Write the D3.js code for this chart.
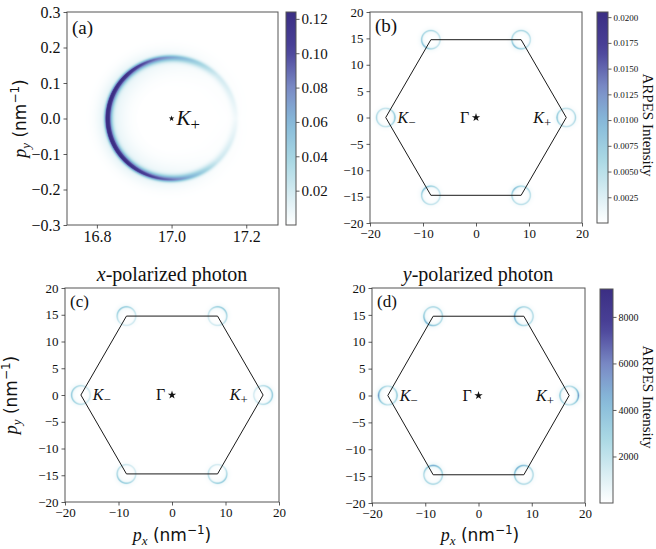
<!DOCTYPE html>
<html>
<head>
<meta charset="utf-8">
<script src="https://cdn.jsdelivr.net/npm/d3@7/dist/d3.min.js"></script>
<style>
  body { margin: 0; background: #fff; }
  svg { display: block; }
  text { font-family: "Liberation Serif", "Times New Roman", serif; fill: #111; }
</style>
</head>
<body>
<svg id="chart" width="656" height="549"></svg>
<script>
// ---------- data ----------
const kPlus = 17.0;                        // K+ position in panel (a)
const ringAngles = [0, 45, 90, 135, 180, 225, 270, 315];   // deg, around each ring
// panel (a): peak intensity along the ring around K+
const ringPeakA = [0.005, 0.018, 0.062, 0.11, 0.124, 0.115, 0.078, 0.02];

// Brillouin zone corners (nm^-1), order: K+, K-, K+, K-, K+, K-
const hexPx = [17.03, 8.515, -8.515, -17.03, -8.515, 8.515];
const hexPy = [0, 14.75, 14.75, 0, -14.75, -14.75];

// panel (b): ring peak per valley (rows follow the corner order)
const ringPeakB = [
  [0.005, 0.004, 0.0035, 0.005, 0.007, 0.005, 0.0035, 0.004],
  [0.0035, 0.005, 0.005, 0.0045, 0.005, 0.008, 0.006, 0.004],
  [0.0035, 0.004, 0.005, 0.005, 0.006, 0.008, 0.005, 0.0035],
  [0.007, 0.005, 0.0035, 0.004, 0.005, 0.004, 0.0035, 0.005],
  [0.0035, 0.004, 0.006, 0.008, 0.005, 0.0045, 0.0035, 0.0035],
  [0.004, 0.005, 0.005, 0.008, 0.005, 0.004, 0.004, 0.004]
];
// panel (c): x-polarized photon
const ringPeakC = [
  [2900, 2500, 1800, 1300, 1100, 1300, 1800, 2500],
  [2200, 2900, 2700, 1800, 1300, 1100, 1300, 1800],
  [1300, 1800, 2700, 2900, 2200, 1300, 1100, 1300],
  [1100, 1300, 1800, 2500, 2900, 2500, 1800, 1300],
  [1300, 1100, 1300, 1800, 2200, 2900, 2700, 1800],
  [2200, 1300, 1100, 1300, 1800, 1800, 2700, 2900]
];
// panel (d): y-polarized photon
const ringPeakD = [
  [4800, 2800, 1700, 2200, 3000, 2200, 1700, 2800],
  [2000, 2000, 2200, 3000, 4200, 3400, 2200, 2000],
  [2000, 2200, 2200, 2000, 3000, 4200, 3000, 2200],
  [3000, 2200, 1700, 2800, 4800, 2800, 1700, 2200],
  [2200, 3000, 4200, 3000, 2000, 2200, 2200, 2000],
  [2000, 2200, 3400, 4200, 3000, 2200, 2000, 2000]
];

const ticksA = [-0.3, -0.2, -0.1, 0.0, 0.1, 0.2, 0.3];
const ticksAx = [16.8, 17.0, 17.2];
const ticksBZy = [-20, -15, -10, -5, 0, 5, 10, 15, 20];
const ticksBZx = [-20, -10, 0, 10, 20];
const cbTicksA = [0.02, 0.04, 0.06, 0.08, 0.10, 0.12];
const cbTicksB = [0.0025, 0.0050, 0.0075, 0.0100, 0.0125, 0.0150, 0.0175, 0.0200];
const cbTicksD = [2000, 4000, 6000, 8000];

// colormap (white -> light blue -> dark indigo)
const cmapPos = [0, 0.3, 0.48, 0.64, 0.82, 1];
const cmapCol = ["#ffffff", "#aad8e4", "#86bad9", "#7b8cc6", "#4b4399", "#3b2e83"];

// ---------- helpers ----------
const svg = d3.select("#chart");
const serif = "Liberation Serif";
const sans = "DejaVu Sans";
const minus = s => s.replace("-", "\u2212");

function colorScale(max) {
  return d3.scaleLinear().domain(cmapPos.map(p => p * max)).range(cmapCol).clamp(true);
}

function peakAt(samples, ang) {
  const n = samples.length, step = 360 / n;
  const f = (((ang % 360) + 360) % 360) / step;
  const i = Math.floor(f), t = f - i;
  return samples[i] * (1 - t) + samples[(i + 1) % n] * t;
}

// ring intensity map rendered into an image
function drawMap(box, sx, sy, centers, peaks, R, sIn, sOut, halo, color) {
  const w = box.w, h = box.h;
  const cv = document.createElement("canvas");
  cv.width = w; cv.height = h;
  const ctx = cv.getContext("2d");
  const img = ctx.createImageData(w, h);
  for (let j = 0; j < h; j++) {
    const py = sy.invert(box.y + j + 0.5);
    for (let i = 0; i < w; i++) {
      const px = sx.invert(box.x + i + 0.5);
      let v = 0;
      centers.forEach((c, k) => {
        const dx = px - c[0], dy = py - c[1];
        const d = Math.hypot(dx, dy) - R;
        if (Math.abs(d) > 16 * sOut) return;
        const ang = Math.atan2(dy, dx) * 180 / Math.PI;
        const p = peakAt(peaks[k], ang);
        const s = d < 0 ? sIn : sOut;
        v += p * Math.exp(-d * d / (2 * s * s)) + p * halo * Math.exp(-d * d / (2 * 16 * s * s));
      });
      const c = d3.rgb(color(v));
      const o = (j * w + i) * 4;
      img.data[o] = c.r; img.data[o + 1] = c.g; img.data[o + 2] = c.b; img.data[o + 3] = 255;
    }
  }
  ctx.putImageData(img, 0, 0);
  svg.append("image")
    .attr("x", box.x).attr("y", box.y)
    .attr("width", w).attr("height", h)
    .attr("preserveAspectRatio", "none")
    .attr("href", cv.toDataURL());
}

function styleAxis(g, size) {
  g.attr("font-family", serif);
  g.select(".domain").remove();
  g.selectAll(".tick line").attr("stroke", "#333").attr("stroke-width", 0.8);
  g.selectAll(".tick text")
    .attr("font-family", serif)
    .style("font-family", serif)
    .style("font-size", size + "px").attr("fill", "#111");
}

function frame(box) {
  svg.append("rect")
    .attr("x", box.x).attr("y", box.y).attr("width", box.w).attr("height", box.h)
    .attr("fill", "none").attr("stroke", "#555").attr("stroke-width", 1);
}

function colorbar(id, box, max, ticks, fmt, size) {
  const color = colorScale(max);
  const grad = svg.append("defs").append("linearGradient")
    .attr("id", id).attr("x1", 0).attr("x2", 0).attr("y1", 1).attr("y2", 0);
  d3.range(0, 1.0001, 0.05).forEach(t => {
    grad.append("stop").attr("offset", t).attr("stop-color", color(t * max));
  });
  svg.append("rect")
    .attr("x", box.x).attr("y", box.y).attr("width", box.w).attr("height", box.h)
    .attr("fill", `url(#${id})`);
  const sc = d3.scaleLinear().domain([0, max]).range([box.y + box.h, box.y]);
  const g = svg.append("g")
    .attr("transform", `translate(${box.x + box.w},0)`)
    .call(d3.axisRight(sc).tickValues(ticks).tickFormat(fmt).tickSize(3.5).tickPadding(2));
  styleAxis(g, size);
  frame(box);
}

function pLabel(x, y, sub, rotate) {
  const t = svg.append("text")
    .attr("transform", `translate(${x},${y})` + (rotate ? " rotate(-90)" : ""))
    .attr("text-anchor", "middle")
    .style("font-size", "18px");
  t.append("tspan").style("font-style", "italic").text("p");
  t.append("tspan").style("font-style", "italic").style("font-size", "13px").attr("dy", 4).text(sub);
  t.append("tspan").attr("dy", -4).style("font-family", sans).style("font-size", "17px").text(" (nm");
  t.append("tspan").attr("dy", -7).style("font-family", sans).style("font-size", "12px").text("\u22121");
  t.append("tspan").attr("dy", 7).style("font-family", sans).style("font-size", "17px").text(")");
}

function kLabel(x, y, sign, size) {
  const t = svg.append("text").attr("x", x).attr("y", y).style("font-size", size + "px");
  t.append("tspan").style("font-style", "italic").text("K");
  t.append("tspan").attr("dy", size * 0.25).style("font-size", (size * 0.8) + "px").text(sign);
}

function star(x, y, size) {
  svg.append("path")
    .attr("transform", `translate(${x},${y})`)
    .attr("d", d3.symbol(d3.symbolStar, size)())
    .attr("fill", "#111");
}

// ---------- panel (a) ----------
const boxA = { x: 67, y: 12, w: 211, h: 213 };
const sxA = d3.scaleLinear().domain([16.72, 17.285]).range([boxA.x, boxA.x + boxA.w]);
const syA = d3.scaleLinear().domain([-0.3, 0.3]).range([boxA.y + boxA.h, boxA.y]);
drawMap(boxA, sxA, syA, [[kPlus, 0]], [ringPeakA], 0.172, 0.008, 0.005, 0.1, colorScale(0.124));
frame(boxA);
styleAxis(svg.append("g").attr("transform", `translate(${boxA.x},0)`)
  .call(d3.axisLeft(syA).tickValues(ticksA).tickFormat(d3.format(".1f")).tickSize(3.5).tickPadding(3)), 16);
styleAxis(svg.append("g").attr("transform", `translate(0,${boxA.y + boxA.h})`)
  .call(d3.axisBottom(sxA).tickValues(ticksAx).tickFormat(d3.format(".1f")).tickSize(3.5).tickPadding(2)), 16);
star(sxA(kPlus), syA(0), 10);
kLabel(sxA(kPlus) + 5, syA(0) + 6, "+", 21);
svg.append("text").attr("x", boxA.x + 5).attr("y", boxA.y + 22).style("font-size", "19px").text("(a)");
pLabel(26, syA(0), "y", true);
colorbar("cbA", { x: 286, y: 12, w: 10, h: 213 }, 0.124, cbTicksA, d3.format(".2f"), 15);

// ---------- Brillouin zone panels ----------
function bzPanel(box, peaks, max, letter) {
  const sx = d3.scaleLinear().domain([-20, 20]).range([box.x, box.x + box.w]);
  const sy = d3.scaleLinear().domain([-20, 20]).range([box.y + box.h, box.y]);
  const centers = hexPx.map((x, i) => [x, hexPy[i]]);
  drawMap(box, sx, sy, centers, peaks, 1.75, 0.14, 0.11, 0.14, colorScale(max));
  const line = d3.line().x(d => sx(d[0])).y(d => sy(d[1]));
  svg.append("path")
    .attr("d", line(centers) + "Z")
    .attr("fill", "none").attr("stroke", "#1a1a1a").attr("stroke-width", 1);
  frame(box);
  styleAxis(svg.append("g").attr("transform", `translate(${box.x},0)`)
    .call(d3.axisLeft(sy).tickValues(ticksBZy).tickFormat(d => minus(String(d))).tickSize(3.5).tickPadding(3)), 13);
  styleAxis(svg.append("g").attr("transform", `translate(0,${box.y + box.h})`)
    .call(d3.axisBottom(sx).tickValues(ticksBZx).tickFormat(d => minus(String(d))).tickSize(3.5).tickPadding(2)), 13);
  kLabel(sx(-14.8), sy(0) + 5, "\u2212", 16);
  kLabel(sx(10.8), sy(0) + 5, "+", 16);
  svg.append("text").attr("x", sx(-3.0)).attr("y", sy(0) + 5).style("font-size", "16px").text("\u0393");
  star(sx(0), sy(0), 22);
  svg.append("text").attr("x", box.x + 5).attr("y", box.y + (letter === "(b)" ? 20 : 19))
    .style("font-size", letter === "(b)" ? "19px" : "17px").text(letter);
  return sx;
}

bzPanel({ x: 370, y: 12, w: 212, h: 211 }, ringPeakB, 0.0205, "(b)");
colorbar("cbB", { x: 597, y: 12, w: 11, h: 211 }, 0.0205, cbTicksB, d3.format(".4f"), 9);
svg.append("text").attr("transform", "translate(643,125) rotate(90)")
  .attr("text-anchor", "middle").style("font-size", "15px").text("ARPES Intensity");

bzPanel({ x: 65, y: 288, w: 214, h: 214 }, ringPeakC, 9200, "(c)");
bzPanel({ x: 372, y: 288, w: 213, h: 215 }, ringPeakD, 9200, "(d)");
colorbar("cbD", { x: 600, y: 289, w: 13, h: 214 }, 9200, cbTicksD, d3.format("d"), 10);
svg.append("text").attr("transform", "translate(643,397) rotate(90)")
  .attr("text-anchor", "middle").style("font-size", "15px").text("ARPES Intensity");

// titles and axis labels
function title(x, y, v) {
  const t = svg.append("text").attr("x", x).attr("y", y).attr("text-anchor", "middle").style("font-size", "20px");
  t.append("tspan").style("font-style", "italic").text(v);
  t.append("tspan").text("-polarized photon");
}
title(172, 281, "x");
title(478, 281, "y");
pLabel(17, 395, "y", true);
pLabel(172, 541, "x", false);
pLabel(480, 541, "x", false);
</script>
</body>
</html>
